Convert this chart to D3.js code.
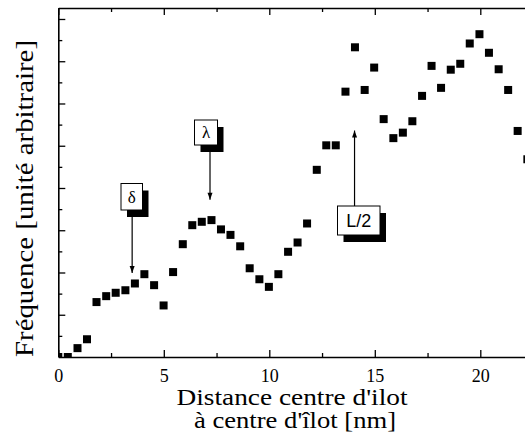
<!DOCTYPE html>
<html><head><meta charset="utf-8">
<script src="https://cdn.jsdelivr.net/npm/d3@7"></script>
<style>
html,body{margin:0;padding:0;background:#fff;overflow:hidden}
.serif{font-family:"Liberation Serif","Times New Roman",Times,serif}
.sans{font-family:"Liberation Sans",Arial,Helvetica,sans-serif}
</style>
</head><body>
<script>
// Distance centre d'îlot à centre d'îlot [nm]
const distance = [0.00,0.45,0.91,1.36,1.81,2.27,2.72,3.18,3.63,4.08,
  4.54,4.99,5.44,5.90,6.35,6.80,7.26,7.71,8.16,8.62,
  9.07,9.53,9.98,10.43,10.89,11.34,11.79,12.25,12.70,13.15,
  13.61,14.06,14.52,14.97,15.42,15.88,16.33,16.78,17.24,17.69,
  18.14,18.60,19.05,19.50,19.96,20.41,20.87,21.32,21.77,22.23];
// Fréquence [unité arbitraire]
const frequence = [0.00,0.00,0.21,0.42,1.30,1.44,1.52,1.58,1.74,1.96,
  1.70,1.22,2.01,2.67,3.12,3.20,3.24,3.02,2.89,2.62,
  2.10,1.84,1.66,1.96,2.49,2.71,3.16,4.43,5.01,5.01,
  6.28,7.33,6.32,6.85,5.63,5.18,5.31,5.58,6.18,6.89,
  6.37,6.80,6.94,7.42,7.64,7.20,6.81,6.32,5.35,4.68];
const xTickValues = [0,5,10,15,20];
const xTickLabels = ["0","5","10","15","20"];
const xMinorTicks = [2.5,7.5,12.5,17.5,22.5];
const yMajorTicks = [1,2,3,4,5,6,7,8];
const yMinorTicks = [0.5,1.5,2.5,3.5,4.5,5.5,6.5,7.5];
const annotLabels = ["δ","λ","L/2"];
const annotX = [3.5,7.19,14.04];
const annotTip = [1.99,3.72,5.36];

const W = 525, H = 448;
const svg = d3.select("body").append("svg").attr("width",W).attr("height",H);
const x = d3.scaleLinear().domain([0,24]).range([58.3,58.3+24*21.1]);
const y = d3.scaleLinear().domain([0,8.26]).range([357,8]);

svg.append("defs").append("clipPath").attr("id","plot")
  .append("rect").attr("x",x(0)).attr("y",y(8.26)).attr("width",x(24)-x(0)).attr("height",y(0)-y(8.26));

// points
svg.append("g").attr("clip-path","url(#plot)").selectAll("rect").data(distance).join("rect")
  .attr("x",(d)=>x(d)-4).attr("y",(d,i)=>y(frequence[i])-4)
  .attr("width",8).attr("height",8).attr("fill","#000");

function styleAxis(g){
  g.attr("font-family",null).attr("font-size",null);
  g.select(".domain").attr("stroke","#000").attr("stroke-width",1.6);
  g.selectAll(".tick line").attr("stroke","#000").attr("stroke-width",1.3);
}
// bottom
svg.append("g").attr("transform",`translate(0,${y(0)})`)
  .call(d3.axisBottom(x).tickValues(xTickValues).tickFormat((d,i)=>xTickLabels[i]).tickSize(-7).tickSizeOuter(0).tickPadding(12))
  .call(styleAxis)
  .call(g=>g.selectAll("text").attr("class","serif").style("font-size","18px").attr("fill","#000"));
svg.append("g").attr("transform",`translate(0,${y(0)})`)
  .call(d3.axisBottom(x).tickValues(xMinorTicks).tickFormat("").tickSize(-4).tickSizeOuter(0))
  .call(styleAxis).call(g=>g.select(".domain").remove());
// top
svg.append("g").attr("transform",`translate(0,${y(8.26)})`)
  .call(d3.axisTop(x).tickValues(xTickValues).tickFormat("").tickSize(-7).tickSizeOuter(0))
  .call(styleAxis);
svg.append("g").attr("transform",`translate(0,${y(8.26)})`)
  .call(d3.axisTop(x).tickValues(xMinorTicks).tickFormat("").tickSize(-4).tickSizeOuter(0))
  .call(styleAxis).call(g=>g.select(".domain").remove());
// left
svg.append("g").attr("transform",`translate(${x(0)},0)`)
  .call(d3.axisLeft(y).tickValues(yMajorTicks).tickFormat("").tickSize(-7).tickSizeOuter(0))
  .call(styleAxis);
svg.append("g").attr("transform",`translate(${x(0)},0)`)
  .call(d3.axisLeft(y).tickValues(yMinorTicks).tickFormat("").tickSize(-4).tickSizeOuter(0))
  .call(styleAxis).call(g=>g.select(".domain").remove());

// axis titles
svg.append("text").attr("class","serif").attr("transform","translate(33,198.5) rotate(-90)")
  .attr("text-anchor","middle").style("font-size","25px")
  .attr("textLength",317).attr("lengthAdjust","spacingAndGlyphs")
  .text("Fréquence [unité arbitraire]");
svg.append("text").attr("class","serif").attr("x",292).attr("y",405).attr("text-anchor","middle")
  .style("font-size","23px")
  .attr("textLength",231).attr("lengthAdjust","spacingAndGlyphs")
  .text("Distance centre d'ilot");
svg.append("text").attr("class","serif").attr("x",295).attr("y",428).attr("text-anchor","middle")
  .style("font-size","23px")
  .attr("textLength",202).attr("lengthAdjust","spacingAndGlyphs")
  .text("à centre d'îlot [nm]");

// annotations
const boxes = [
  {l:121, t:183.5, w:21.5, h:26.5, cls:"serif", fs:17, dir:"down"},
  {l:194.5, t:120, w:23, h:25, cls:"serif", fs:17, dir:"down"},
  {l:337.5, t:206, w:42.5, h:29, cls:"sans", fs:18, dir:"up"}
];
const ag = svg.append("g");
annotLabels.forEach((lab,i)=>{
  const b = boxes[i];
  const ax = x(annotX[i]), tip = y(annotTip[i]);
  const start = b.dir==="down" ? b.t+b.h : b.t;
  const headDir = b.dir==="down" ? -1 : 1;
  ag.append("line").attr("x1",ax).attr("x2",ax).attr("y1",start).attr("y2",tip)
    .attr("stroke","#000").attr("stroke-width",1.2);
  ag.append("path").attr("d",`M${ax},${tip} L${ax-2.5},${tip+headDir*7} L${ax+2.5},${tip+headDir*7}Z`).attr("fill","#000");
  ag.append("rect").attr("x",b.l+6).attr("y",b.t+7).attr("width",b.w).attr("height",b.h).attr("fill","#000");
  ag.append("rect").attr("x",b.l).attr("y",b.t).attr("width",b.w).attr("height",b.h)
    .attr("fill","#fff").attr("stroke","#000").attr("stroke-width",1);
  ag.append("text").attr("class",b.cls).attr("x",b.l+b.w/2).attr("y",b.t+b.h/2).attr("dy","0.35em")
    .attr("text-anchor","middle").style("font-size",b.fs+"px").text(lab);
});
</script>
</body></html>
